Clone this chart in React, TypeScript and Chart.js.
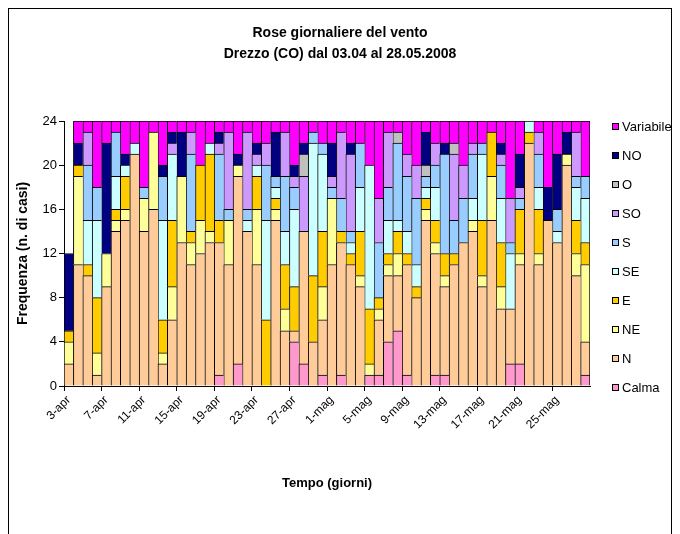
import React, { useEffect, useRef } from "react";
import { Chart, registerables } from "chart.js";

Chart.register(...registerables);

const days = [
  "3-apr", "4-apr", "5-apr", "6-apr", "7-apr", "8-apr", "9-apr", "10-apr", "11-apr", "12-apr",
  "13-apr", "14-apr", "15-apr", "16-apr", "17-apr", "18-apr", "19-apr", "20-apr", "21-apr", "22-apr",
  "23-apr", "24-apr", "25-apr", "26-apr", "27-apr", "28-apr", "29-apr", "30-apr",
  "1-mag", "2-mag", "3-mag", "4-mag", "5-mag", "6-mag", "7-mag", "8-mag", "9-mag", "10-mag",
  "11-mag", "12-mag", "13-mag", "14-mag", "15-mag", "16-mag", "17-mag", "18-mag", "19-mag", "20-mag",
  "21-mag", "22-mag", "23-mag", "24-mag", "25-mag", "26-mag", "27-mag", "28-mag",
];

const calma = [0,0,0,0,0,0,0,0,0,0, 0,0,0,0,0,0,1,0,2,0, 0,0,0,0,4,2,0,1,0,1, 0,0,1,1,4,5,1,0,0,1, 1,0,0,0,0,0,0,2,2,0, 0,0,0,0,0,1];
const nord = [2,11,10,1,9,14,15,21,14,16, 2,6,13,11,12,13,12,11,17,14, 11,0,15,5,1,12,4,5,11,12, 11,9,0,5,6,5,10,8,15,11, 8,11,13,14,9,15,7,5,9,22, 11,15,13,20,10,3];
const nordEst = [2,8,0,2,3,1,1,0,3,7, 1,3,6,2,3,1,0,4,1,0, 5,0,1,2,0,0,0,3,6,0, 0,1,1,1,1,2,0,0,1,1, 1,0,0,1,1,4,2,0,1,0, 1,0,0,1,2,7];
const est = [1,1,1,5,0,1,3,0,0,0, 3,6,0,1,5,7,2,0,0,0, 3,6,1,4,4,0,6,5,0,1, 1,4,5,1,1,2,1,1,1,2, 2,1,0,0,5,4,4,0,4,1, 4,0,0,0,3,2];
const sudEst = [0,0,4,7,0,3,1,1,0,0, 9,6,0,0,0,1,0,0,0,1, 1,9,1,3,7,0,12,7,0,0, 1,4,13,0,3,1,2,2,1,3, 0,0,0,2,6,0,4,5,0,1, 2,0,1,0,3,4];
const sud = [0,0,5,3,0,4,0,0,1,0, 4,0,0,7,0,0,6,1,0,1, 0,5,1,5,2,0,1,1,1,3, 1,4,0,5,3,7,5,6,1,2, 9,3,4,4,1,0,3,1,1,0, 3,0,2,0,1,2];
const sudOvest = [0,0,3,0,0,0,0,0,0,0, 0,1,0,2,0,0,1,7,0,7, 1,2,0,4,1,5,0,0,1,6, 7,0,0,4,5,0,2,3,0,2, 0,6,3,1,0,0,1,4,1,0, 2,0,0,0,4,0];
const ovest = [0,0,0,0,0,0,0,0,0,0, 0,0,0,0,0,0,0,0,0,0, 0,0,0,0,0,2,0,0,0,0, 0,0,0,0,0,1,0,0,1,0, 0,1,0,0,0,0,0,0,0,0, 0,0,0,0,0,0];
const nordOvest = [7,2,0,0,10,0,1,0,0,0, 1,1,4,0,0,0,1,0,1,0, 1,0,4,0,1,1,0,0,3,0, 1,0,0,0,0,0,0,0,3,0, 1,0,0,0,0,0,1,0,3,0, 0,3,5,2,0,0];
const variabile = [0,2,1,6,2,1,3,2,6,1, 4,1,1,1,4,2,1,1,3,1, 2,2,1,1,4,2,1,2,2,1, 2,2,4,7,1,1,3,4,1,2, 2,2,4,2,2,1,2,7,3,0, 1,6,3,1,1,5];

const seriesNames = ["Calma", "N", "NE", "E", "SE", "S", "SO", "O", "NO", "Variabile"];
const seriesValues = [calma, nord, nordEst, est, sudEst, sud, sudOvest, ovest, nordOvest, variabile];
const seriesColors = ["#FF99CC", "#FFCC99", "#FFFF99", "#FFCC00", "#CCFFFF", "#99CCFF", "#CC99FF", "#C0C0C0", "#000080", "#FF00FF"];

const yMin = 0;
const yMax = 24;
const yStep = 4;
const xLabelEvery = 4;

const FONT = "'Liberation Sans', Arial, Helvetica, sans-serif";

const sideLegend = {
  id: "sideLegend",
  afterDraw(chart: any) {
    const { ctx, chartArea } = chart;
    const x0 = chartArea.right + 22;
    const n = seriesNames.length;
    ctx.save();
    ctx.font = `13px ${FONT}`;
    ctx.textBaseline = "middle";
    ctx.textAlign = "left";
    for (let k = 0; k < n; k++) {
      const idx = n - 1 - k;
      const y = Math.round(chartArea.top + 6 + k * 29);
      ctx.fillStyle = seriesColors[idx];
      ctx.fillRect(x0, y - 4, 7, 7);
      ctx.strokeStyle = "#000";
      ctx.lineWidth = 1;
      ctx.strokeRect(x0 + 0.5, y - 3.5, 6, 6);
      ctx.fillStyle = "#000";
      ctx.fillText(seriesNames[idx], x0 + 10, y);
    }
    ctx.restore();
  },
};

export default function App() {
  const ref = useRef<HTMLCanvasElement | null>(null);

  useEffect(() => {
    if (!ref.current) return;
    const lastIndex = days.length - 1;
    const chart = new Chart(ref.current, {
      type: "bar",
      data: {
        labels: days,
        datasets: seriesNames.map((name, i) => ({
          label: name,
          data: seriesValues[i],
          backgroundColor: seriesColors[i],
          borderColor: "#000",
          borderWidth: (c: any) => ({ top: 1, left: 1, bottom: 0, right: c.dataIndex === lastIndex ? 1 : 0 }),
          borderSkipped: false,
          categoryPercentage: 1,
          barPercentage: 1,
        })),
      },
      options: {
        responsive: false,
        animation: false,
        devicePixelRatio: 1,
        layout: { padding: { top: 0, left: 0, right: 0, bottom: 0 } },
        plugins: {
          legend: { display: false },
          tooltip: { enabled: false },
          title: {
            display: true,
            text: "Rose giornaliere del vento",
            color: "#000",
            font: { family: FONT, size: 14, weight: "bold" },
            padding: { top: 15.6, bottom: 0 },
          },
          subtitle: {
            display: true,
            text: "Drezzo (CO) dal 03.04 al 28.05.2008",
            color: "#000",
            font: { family: FONT, size: 14, weight: "bold" },
            padding: { top: 4.6, bottom: 58.2 },
          },
        },
        scales: {
          x: {
            stacked: true,
            offset: true,
            grid: {
              offset: true,
              drawOnChartArea: false,
              drawTicks: true,
              tickLength: 5,
              color: (c: any) => (c.index % xLabelEvery === 0 ? "#000" : "rgba(0,0,0,0)"),
            },
            border: { display: true, color: "#000", width: 1 },
            ticks: {
              autoSkip: false,
              minRotation: 45,
              maxRotation: 45,
              padding: 2,
              color: "#000",
              font: { family: FONT, size: 12 },
              callback: (_v: any, i: number) => (i % xLabelEvery === 0 ? days[i] : ""),
            },
            title: {
              display: true,
              text: "Tempo (giorni)",
              color: "#000",
              font: { family: FONT, size: 13, weight: "bold" },
              padding: { top: 0, bottom: 56.2 },
            },
            afterFit: (s: any) => {
              s.height = 161;
            },
          },
          y: {
            stacked: true,
            min: yMin,
            max: yMax,
            grid: { drawOnChartArea: false, drawTicks: true, tickLength: 5, color: "#000" },
            border: { display: true, color: "#000", width: 1 },
            ticks: {
              stepSize: yStep,
              padding: 2,
              color: "#000",
              font: { family: FONT, size: 13 },
            },
            title: {
              display: true,
              text: "Frequenza (n. di casi)",
              color: "#000",
              font: { family: FONT, size: 14, weight: "bold" },
              padding: { top: 5.6, bottom: 0 },
            },
            afterFit: (s: any) => {
              s.width = 55;
            },
          },
          legendSpace: {
            type: "linear",
            position: "right",
            display: true,
            grid: { display: false, drawTicks: false },
            border: { display: false },
            ticks: { display: false },
            afterFit: (s: any) => {
              s.width = 81;
            },
          },
        },
      },
      plugins: [sideLegend],
    } as any);
    return () => chart.destroy();
  }, []);

  return (
    <div
      style={{
        width: 664,
        height: 540,
        border: "1px solid #000",
        boxSizing: "border-box",
        position: "relative",
        background: "#fff",
      }}
    >
      <canvas ref={ref} width={662} height={538} style={{ display: "block" }} />
    </div>
  );
}
